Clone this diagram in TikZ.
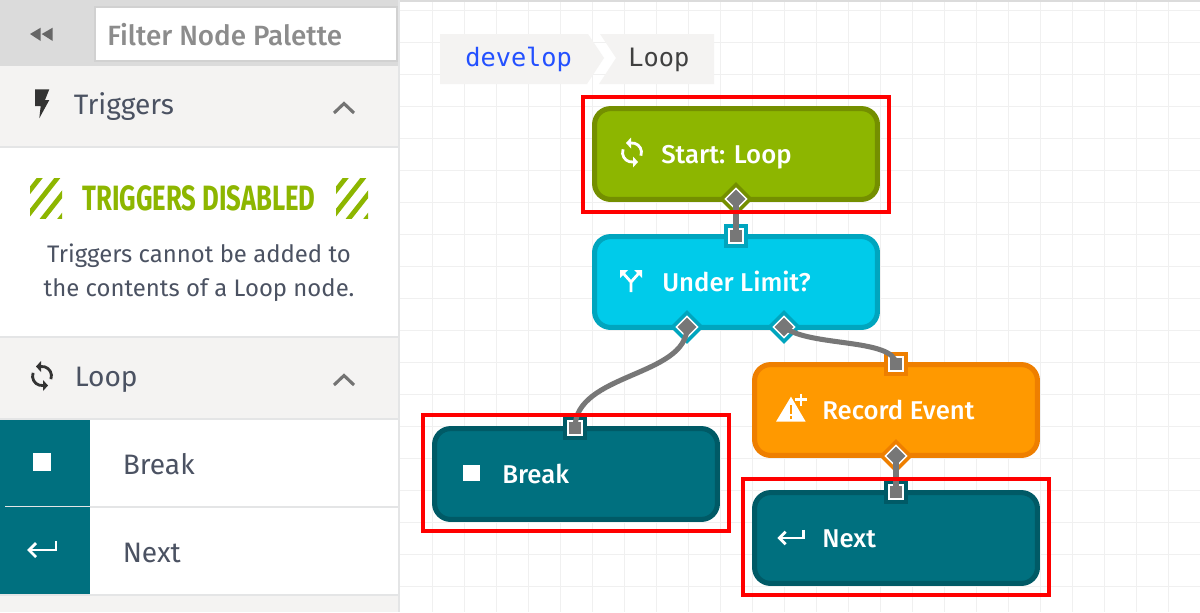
\documentclass[tikz,border=0pt]{standalone}
\usepackage{fontspec}
\setmainfont{Fira Sans}
\newfontfamily\medfont{Fira Sans Medium}
\newfontfamily\crumbfont{DejaVu Sans Mono}
\usetikzlibrary{shapes.geometric,positioning}
\definecolor{flowteal}{HTML}{00707F}
\definecolor{tealdark}{HTML}{005A66}
\definecolor{flowgreen}{HTML}{8DB600}
\definecolor{greendark}{HTML}{748F00}
\definecolor{flowcyan}{HTML}{00CBEA}
\definecolor{cyandark}{HTML}{00A5BE}
\definecolor{floworange}{HTML}{FF9900}
\definecolor{orangedark}{HTML}{EE7F00}
\definecolor{paneltext}{HTML}{4B5262}
\definecolor{panelbg}{HTML}{F4F3F2}
\definecolor{panelline}{HTML}{E4E5E6}
\definecolor{wire}{HTML}{777777}
\definecolor{crumbblue}{HTML}{2350FF}
\tikzset{
  flownode/.style={draw=#1,line width=3.6pt,rounded corners=0.4cm,minimum width=7.07cm,minimum height=2.27cm,inner sep=0pt},
  flowtext/.style={anchor=base west,inner sep=0pt,text=white,font=\medfont\fontsize{18.3}{20}\selectfont},
  paneltxt/.style={anchor=base west,inner sep=0pt,text=paneltext,font=\fontsize{20}{22}\selectfont},
  crumb/.style={anchor=base west,inner sep=0pt,font=\crumbfont\fontsize{18}{20}\selectfont},
  outport/.style={diamond,fill=#1,minimum size=0.85cm,inner sep=0pt},
  outpin/.style={diamond,fill=wire,draw=white,line width=1pt,minimum size=0.55cm,inner sep=0pt},
  inport/.style={rectangle,fill=#1,minimum size=0.58cm,inner sep=0pt},
  inpin/.style={rectangle,fill=wire,draw=white,line width=0.8pt,minimum size=0.35cm,inner sep=0pt},
  wireline/.style={draw=wire,line width=3.6pt},
  redbox/.style={draw=red,line width=2.9pt},
  chevron/.style={draw=black!55,line width=2.2pt},
  pics/syncicon/.style={code={
    \draw[#1,line width=2pt] (-1,-9.5) arc (-96:20:9.5);
    \draw[#1,line width=2pt] (1,9.5) arc (84:200:9.5);
    \fill[#1] (-6,-9.5) -- (-1,-15) -- (-1,-4) -- cycle;
    \fill[#1] (6,9.5) -- (1,4) -- (1,15) -- cycle;
  }},
  pics/returnicon/.style={code={
    \draw[white,line width=2pt] (14,-9) -- (14,0) -- (-13,0);
    \draw[white,line width=2pt] (-6,-7) -- (-13,0) -- (-6,7);
  }},
}
\begin{document}
\begin{tikzpicture}[x=0.025cm,y=-0.025cm]
\useasboundingbox (0,0) rectangle (1200,612);
\fill[white] (0,0) rectangle (1200,612);
\foreach \gx in {0,...,24} \draw[black!6,line width=0.6pt] (432.5+32*\gx,0) -- (432.5+32*\gx,612);
\foreach \gy in {0,...,18} \draw[black!6,line width=0.6pt] (400,10+32*\gy) -- (1200,10+32*\gy);
\fill[black!14] (400,0) rectangle (1200,2);
% palette
\fill[panelbg] (0,66) rectangle (398,146);
\fill[panelbg] (0,338) rectangle (398,418);
\fill[panelbg] (0,596) rectangle (398,612);
\fill[black!14] (0,0) rectangle (398,66);
\fill[panelline] (398,0) rectangle (400,612);
\foreach \ly in {146,336,418,506,594} \fill[panelline] (0,\ly) rectangle (398,\ly+2);
\fill[flowteal] (0,420) rectangle (90,594);
\fill[panelline] (5,506) rectangle (90,507);
\fill[black!60] (30,34) -- (40.7,27.7) -- (40.7,41) -- cycle;
\fill[black!60] (41.7,34) -- (52.7,27.7) -- (52.7,41) -- cycle;
\node[draw=black!18,line width=1.5pt,fill=white,minimum width=7.55cm,minimum height=1.35cm,inner sep=0pt] (filter) at (246,34) {};
\node[anchor=base west,inner sep=0pt,text=black!45,font=\medfont\fontsize{19.8}{22}\selectfont] (filtertext) at (107,45) {Filter Node Palette};
\fill[black!80] (35,89.3) -- (49.3,89.3) -- (45,100) -- (49.3,100) -- (39.3,118.3) -- (40.7,106) -- (35,106) -- cycle;
\node[paneltxt] (triggers) at (73.5,114) {Triggers};
\draw[chevron] (334,113) -- (344,103.5) -- (354,113);
\foreach \hx in {30,336} {
  \begin{scope}
  \clip (\hx,178) rectangle (\hx+32,218);
  \foreach \hc in {39.7,57.3,74.9,92.5,110.1}
    \draw[flowgreen,line width=3.4pt] (\hx-30+\hc+7.9,168) -- (\hx-30+\hc-39.4,228);
  \end{scope}
}
\node[inner sep=0pt,text=flowgreen,font=\bfseries\fontsize{25}{27}\selectfont] (disabled) at (199,198) {\scalebox{0.73}[1]{TRIGGERS DISABLED}};
\node[inner sep=0pt,align=center,text=paneltext,font=\fontsize{17}{24.2}\selectfont] (hint) at (199,273) {Triggers cannot be added to\\the contents of a Loop node.};
\pic at (42,376) {syncicon=black!80};
\node[paneltxt] (looplabel) at (74.5,386) {Loop};
\draw[chevron] (334,385) -- (344,375.5) -- (354,385);
\node[fill=white,minimum size=0.45cm,inner sep=0pt] (breakicon) at (42,462) {};
\node[paneltxt] (breaklabel) at (122.5,474) {Break};
\pic at (42,550) {returnicon};
\node[paneltxt] (nextlabel) at (122.5,562) {Next};
% breadcrumb
\fill[panelbg] (440,34) -- (588,34) -- (604,58) -- (587,84) -- (440,84) -- cycle;
\fill[panelbg] (600,34) -- (714,34) -- (714,84) -- (599,84) -- (616,58) -- cycle;
\node[crumb,text=crumbblue] (develop) at (465,66) {develop};
\node[crumb,text=black!75] (crumbloop) at (628,66) {Loop};
% nodes
\node[flownode=greendark,fill=flowgreen] (start) at (736,154) {};
\node[flownode=cyandark,fill=flowcyan] (limit) at (736,282) {};
\node[flownode=orangedark,fill=floworange] (record) at (896,410) {};
\node[flownode=tealdark,fill=flowteal] (break) at (576,474) {};
\node[flownode=tealdark,fill=flowteal] (next) at (896,538) {};
\node[flowtext] (starttext) at (661,163) {Start: Loop};
\node[flowtext] (limittext) at (662,291) {Under Limit?};
\node[flowtext] (recordtext) at (822,419) {Record Event};
\node[flowtext] (breaktext) at (502,483) {Break};
\node[flowtext] (nexttext) at (822,547) {Next};
% node icons
\pic at (632,152.5) {syncicon=white};
\draw[white,line width=2pt] (631,292) -- (631,282) -- (623,273);
\draw[white,line width=2pt] (631,282) -- (639,273);
\fill[white] (620,270) -- (628,270) -- (620,278) -- cycle;
\fill[white] (642,270) -- (634,270) -- (642,278) -- cycle;
\fill[white] (791,396.7) -- (776,421.7) -- (805.7,421.7) -- cycle;
\draw[floworange,line width=1.8pt] (790.8,405) -- (790.8,414);
\draw[floworange,line width=1.8pt] (790.8,416) -- (790.8,418.5);
\draw[white,line width=1.9pt] (795,399.5) -- (807,399.5) (801,393.5) -- (801,405.5);
\node[fill=white,minimum size=0.42cm,inner sep=0pt] (stopicon) at (471.5,473) {};
\pic[scale=0.9] at (791,538) {returnicon};
% ports
\node[outport=greendark] (startdiamond) at (736,199) {};
\node[outpin] (startout) at (736,199) {};
\node[inport=cyandark] (limitsquare) at (736,236) {};
\node[inpin] (limitin) at (736,236) {};
\node[outport=cyandark] (nodiamond) at (687,327) {};
\node[outpin] (limitno) at (687,327) {};
\node[outport=cyandark] (yesdiamond) at (784,327) {};
\node[outpin] (limityes) at (784,327) {};
\node[inport=orangedark] (recordsquare) at (896,364) {};
\node[inpin] (recordin) at (896,364) {};
\node[outport=orangedark] (recorddiamond) at (896,456) {};
\node[outpin] (recordout) at (896,456) {};
\node[inport=tealdark] (breaksquare) at (575,428) {};
\node[inpin] (breakin) at (575,428) {};
\node[inport=tealdark] (nextsquare) at (896,492) {};
\node[inpin] (nextin) at (896,492) {};
% connectors
\draw[wireline] (startout.center) -- (limitin.center);
\draw[wireline] (limitno.center) .. controls +(0,50) and +(0,-55) .. (breakin.center);
\draw[wireline] (limityes.center) .. controls +(25,20) and +(-2,-26) .. (recordin.center);
\draw[wireline] (recordout.center) -- (nextin.center);
% red frames
\draw[redbox] (583,97) rectangle (889,212);
\draw[redbox] (423,415) rectangle (729,531);
\draw[redbox] (743,479) rectangle (1049,595);
\end{tikzpicture}
\end{document}
